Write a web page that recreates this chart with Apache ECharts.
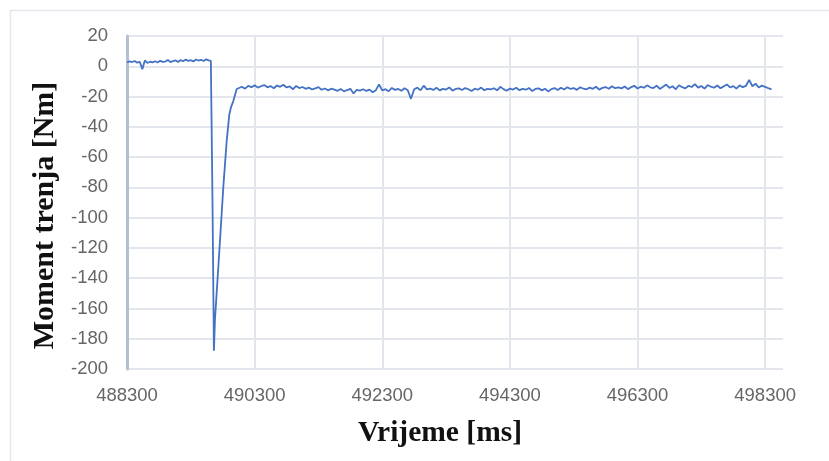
<!DOCTYPE html>
<html>
<head>
<meta charset="utf-8">
<script src="https://cdn.jsdelivr.net/npm/echarts@6/dist/echarts.min.js"></script>
<style>html,body{margin:0;padding:0;background:#fff;}#c{width:829px;height:461px;}</style>
</head>
<body>
<div id="c"></div>
<script>
// ---- data ----
const xTickLabels = ['488300','490300','492300','494300','496300','498300'];
const yTickLabels = ['20','0','-20','-40','-60','-80','-100','-120','-140','-160','-180','-200'];

// pre-event segment: samples every 40 ms starting at 488300
const preStart = 488300, preStep = 40;
const preValues = [2.6,3.2,2.8,3.5,2.4,3.0,-2.0,3.8,2.2,3.0,2.6,3.3,2.5,3.6,2.9,3.1,4.2,2.7,3.4,3.9,2.8,4.1,3.3,4.4,3.6,4.0,3.2,4.5,3.8,4.3,3.5,4.6,3.9];

// spike region (irregular samples)
const spikeTimes  = [489614, 489640, 489662, 489679, 489720, 489765, 489809, 489863, 489903, 489930, 489966, 490019];
const spikeValues = [3.5, -90, -188, -167, -140, -110, -80, -49, -32, -27, -23, -15];

// post-event segment: samples every 50 ms starting at 490050
const postStart = 490050, postStep = 50;
const postValues = [
 -14.2,-13.5,-14.8,-12.9,-13.8,-12.6,-14.1,-13.2,-12.4,-13.9,
 -13.1,-14.5,-12.7,-13.6,-12.2,-14.0,-13.3,-15.2,-13.0,-14.4,
 -13.7,-14.9,-14.1,-15.3,-14.6,-13.8,-15.5,-14.7,-15.9,-14.8,
 -15.4,-16.2,-15.0,-16.6,-15.7,-14.9,-18.0,-15.6,-16.1,-15.2,
 -16.3,-15.4,-17.2,-15.8,-12.0,-16.0,-15.1,-16.5,-14.3,-15.6,
 -15.0,-16.2,-14.5,-15.8,-21.5,-15.2,-14.1,-15.9,-12.8,-15.3,
 -14.7,-15.6,-14.2,-15.9,-14.9,-15.4,-14.0,-16.1,-15.0,-14.6,
 -15.7,-14.4,-15.2,-16.3,-14.8,-15.5,-14.1,-15.8,-14.9,-15.3,
 -14.5,-15.9,-13.6,-15.1,-16.2,-14.7,-15.4,-14.2,-15.8,-14.9,
 -15.5,-14.3,-16.4,-15.0,-14.6,-15.9,-14.8,-16.6,-15.1,-14.4,
 -15.7,-14.2,-15.3,-13.8,-15.0,-14.4,-15.6,-13.9,-14.7,-15.2,
 -14.1,-14.9,-13.5,-15.4,-14.3,-13.7,-14.8,-13.2,-14.5,-13.9,
 -14.6,-13.4,-15.1,-13.8,-12.9,-14.7,-13.5,-14.2,-12.6,-13.9,
 -14.4,-12.8,-15.0,-13.6,-12.1,-14.3,-13.2,-15.2,-12.5,-13.8,
 -14.6,-12.9,-13.7,-11.8,-14.1,-13.0,-14.8,-12.4,-13.5,-14.2,
 -12.7,-14.5,-13.3,-12.0,-14.0,-13.1,-14.7,-12.6,-13.8,-12.9,
 -9.0,-13.2,-11.5,-14.0,-12.8,-13.6,-14.5,-15.2
];

// ---- build series data ----
const data = [];
preValues.forEach((v, i) => data.push([preStart + i * preStep, v]));
spikeTimes.forEach((t, i) => data.push([t, spikeValues[i]]));
postValues.forEach((v, i) => data.push([postStart + i * postStep, v]));

const chart = echarts.init(document.getElementById('c'), null, {renderer: 'canvas'});
chart.setOption({
  animation: false,
  backgroundColor: '#ffffff',
  graphic: [{
    type: 'rect',
    shape: {x: 10.5, y: 10.5, width: 840, height: 470},
    style: {fill: 'none', stroke: '#e4e7ec', lineWidth: 1.5},
    silent: true, z: -1
  }],
  grid: {left: 127, right: 46, top: 36, bottom: 92},
  xAxis: {
    type: 'value',
    min: 488300, max: 498580, interval: 2000,
    axisLine: {show: false},
    axisTick: {show: false},
    axisLabel: {
      showMaxLabel: false,
      margin: 17,
      color: '#666666',
      fontFamily: 'Liberation Sans',
      fontSize: 18.5,
      formatter: v => { const s = String(v); return xTickLabels.includes(s) ? s : ''; }
    },
    splitLine: {show: true, showMaxLine: false, lineStyle: {color: '#e3e6ec', width: 2}},
    name: 'Vrijeme [ms]',
    nameLocation: 'middle',
    nameGap: 49,
    nameTextStyle: {
      fontFamily: 'Liberation Serif', fontWeight: 'bold', fontSize: 29.5, color: '#111',
      padding: [0, 30, 0, 0]
    }
  },
  yAxis: {
    type: 'value',
    min: -200, max: 20, interval: 20,
    axisLine: {show: true, lineStyle: {color: '#b4bfd2', width: 3}},
    axisTick: {show: false},
    axisLabel: {
      margin: 19,
      color: '#666666',
      fontFamily: 'Liberation Sans',
      fontSize: 18.5,
      formatter: v => { const s = String(v); return yTickLabels.includes(s) ? s : ''; }
    },
    splitLine: {show: true, lineStyle: {color: '#e3e6ec', width: 2}},
    name: 'Moment trenja [Nm]',
    nameLocation: 'middle',
    nameGap: 65,
    nameRotate: 90,
    nameTextStyle: {
      fontFamily: 'Liberation Serif', fontWeight: 'bold', fontSize: 30, color: '#111',
      padding: [0, 26, 0, 0]
    }
  },
  series: [{
    type: 'line',
    data: data,
    showSymbol: false,
    symbol: 'none',
    lineStyle: {color: '#4472C4', width: 1.8},
    itemStyle: {color: '#4472C4'}
  }]
});
</script>
</body>
</html>
